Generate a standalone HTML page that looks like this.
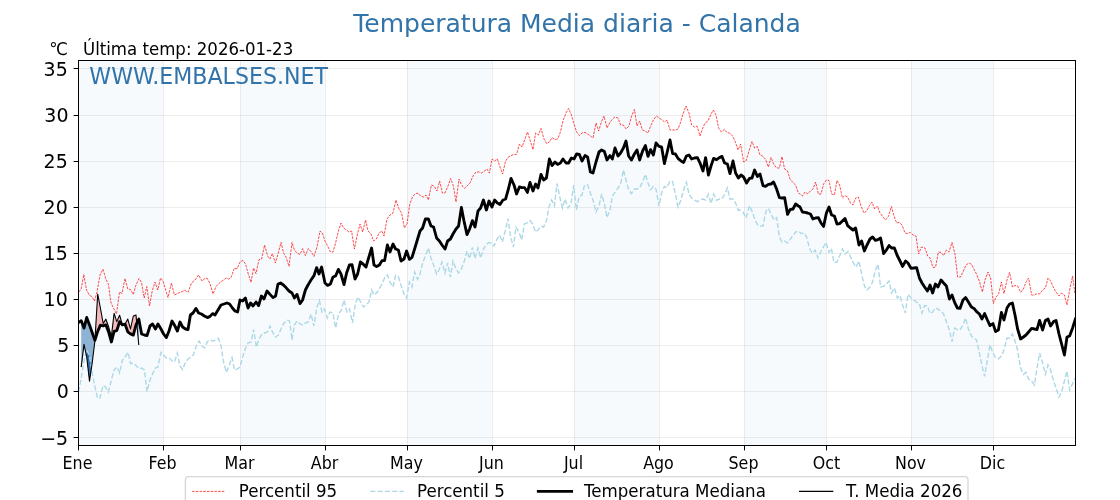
<!DOCTYPE html>
<html lang="es"><head><meta charset="utf-8"><title>Temperatura Media diaria - Calanda</title>
<style>html,body{margin:0;padding:0;background:#fff;overflow:hidden}svg{display:block;opacity:0.999;will-change:transform}text{font-family:"DejaVu Sans","Liberation Sans",sans-serif}</style></head><body>
<svg width="1120" height="500" viewBox="0 0 1120 500">
<rect width="1120" height="500" fill="#fff"/>
<rect x="78.4" y="60.5" width="84.9" height="385.0" fill="#f6fafd"/>
<rect x="240.0" y="60.5" width="84.9" height="385.0" fill="#f6fafd"/>
<rect x="407.0" y="60.5" width="84.9" height="385.0" fill="#f6fafd"/>
<rect x="574.1" y="60.5" width="84.9" height="385.0" fill="#f6fafd"/>
<rect x="743.9" y="60.5" width="82.2" height="385.0" fill="#f6fafd"/>
<rect x="910.9" y="60.5" width="82.2" height="385.0" fill="#f6fafd"/>
<path d="M78.5 437.5H1075.5M78.5 391.5H1075.5M78.5 345.5H1075.5M78.5 299.5H1075.5M78.5 253.5H1075.5M78.5 207.5H1075.5M78.5 161.5H1075.5M78.5 115.5H1075.5M78.5 68.5H1075.5" stroke="#b0b0b0" stroke-opacity="0.22" stroke-width="1" fill="none"/>
<path d="M163.5 60.5V445.5M240.5 60.5V445.5M325.5 60.5V445.5M407.5 60.5V445.5M492.5 60.5V445.5M574.5 60.5V445.5M659.5 60.5V445.5M744.5 60.5V445.5M826.5 60.5V445.5M911.5 60.5V445.5M993.5 60.5V445.5" stroke="#b0b0b0" stroke-opacity="0.22" stroke-width="1" fill="none"/>
<defs><clipPath id="ax"><rect x="78.5" y="60.5" width="997.0" height="385.0"/></clipPath></defs>
<g clip-path="url(#ax)">
<path d="M81.2 320.7 L81.5 321.4 L81.7 322.1 L82.0 322.7 L82.2 323.4 L82.5 324.1 L82.7 324.8 L83.0 325.4 L83.2 326.1 L83.5 326.8 L83.7 327.5 L84.0 328.1 L84.2 327.1 L84.5 326.1 L84.7 325.2 L85.0 324.2 L85.2 323.2 L85.5 322.3 L85.7 321.3 L86.0 320.3 L86.2 319.3 L86.5 318.4 L86.7 317.6 L87.0 318.2 L87.2 318.9 L87.5 319.6 L87.7 320.3 L88.0 320.9 L88.2 321.6 L88.5 322.3 L88.7 323.0 L89.0 323.6 L89.2 324.3 L89.5 325.0 L89.7 325.7 L90.0 326.4 L90.2 327.1 L90.5 327.8 L90.7 328.5 L91.0 329.2 L91.2 329.9 L91.5 330.6 L91.7 331.3 L92.0 332.0 L92.2 332.7 L92.5 333.4 L92.7 334.1 L93.0 334.8 L93.2 335.5 L93.5 336.2 L93.7 336.9 L94.0 337.6 L94.2 338.3 L94.5 339.0 L94.7 339.8 L94.7 342.6 L94.5 344.6 L94.2 346.6 L94.0 348.6 L93.7 350.6 L93.5 352.6 L93.2 354.6 L93.0 356.6 L92.7 358.6 L92.5 360.6 L92.2 362.6 L92.0 364.4 L91.7 366.0 L91.5 367.7 L91.2 369.4 L91.0 371.0 L90.7 372.7 L90.5 374.3 L90.2 376.0 L90.0 377.7 L89.7 379.3 L89.5 381.0 L89.2 379.3 L89.0 377.1 L88.7 374.9 L88.5 372.7 L88.2 370.4 L88.0 368.2 L87.7 366.0 L87.5 363.8 L87.2 361.6 L87.0 359.4 L86.7 357.2 L86.5 356.0 L86.2 354.8 L86.0 353.7 L85.7 352.5 L85.5 351.4 L85.2 350.2 L85.0 349.1 L84.7 347.9 L84.5 346.8 L84.2 345.6 L84.0 344.5 L83.7 346.4 L83.5 348.5 L83.2 350.5 L83.0 352.6 L82.7 354.7 L82.5 356.7 L82.2 358.8 L82.0 360.9 L81.7 363.0 L81.5 365.0 L81.2 367.1Z" fill="#8fb3d4"/>
<path d="M137.0 322.8 L137.2 322.3 L137.5 321.8 L137.7 321.3 L138.0 320.7 L138.2 320.2 L138.5 319.7 L138.7 319.1 L138.7 344.8 L138.5 342.1 L138.2 339.3 L138.0 336.6 L137.7 333.8 L137.5 331.1 L137.2 328.4 L137.0 325.6Z" fill="#8fb3d4"/>
<path d="M95.0 340.1 L95.2 339.3 L95.5 338.5 L95.7 337.7 L96.0 336.8 L96.2 336.0 L96.5 335.2 L96.7 334.4 L97.0 333.5 L97.2 332.7 L97.5 331.9 L97.7 331.2 L98.0 330.6 L98.2 330.0 L98.5 329.5 L98.7 328.9 L99.0 328.4 L99.2 327.8 L99.5 327.3 L99.7 326.7 L100.0 326.1 L100.2 325.6 L100.5 325.2 L100.7 325.3 L101.0 325.3 L101.2 325.4 L101.5 325.4 L101.7 325.5 L102.0 325.5 L102.2 325.6 L102.5 325.7 L102.7 325.7 L103.0 325.8 L103.2 325.8 L103.5 325.7 L103.7 325.6 L104.0 325.5 L104.2 325.4 L104.5 325.4 L104.7 325.3 L105.0 325.2 L105.2 325.1 L105.5 325.0 L105.7 324.9 L106.0 325.2 L106.2 325.8 L106.5 326.4 L106.7 327.1 L107.0 327.7 L107.2 328.3 L107.5 329.0 L107.7 329.6 L108.0 330.3 L108.2 330.9 L108.5 331.5 L108.7 332.3 L109.0 333.2 L109.2 334.1 L109.5 335.1 L109.7 336.0 L110.0 336.9 L110.2 337.8 L110.5 338.8 L110.7 339.7 L111.0 340.6 L111.2 341.5 L111.5 341.5 L111.7 340.6 L112.0 339.6 L112.2 338.6 L112.5 337.6 L112.7 336.6 L113.0 335.7 L113.2 334.7 L113.5 333.7 L113.7 332.7 L114.0 331.8 L114.2 331.3 L114.5 331.2 L114.7 331.1 L115.0 331.1 L115.2 331.0 L115.5 330.9 L115.7 330.9 L116.0 330.8 L116.2 330.8 L116.5 330.7 L116.7 330.6 L117.0 330.1 L117.2 329.3 L117.5 328.5 L117.7 327.7 L118.0 326.8 L118.2 326.0 L118.5 325.2 L118.7 324.4 L119.0 323.6 L119.2 322.7 L119.5 321.9 L119.7 321.8 L120.0 322.1 L120.2 322.4 L120.5 322.7 L120.7 323.0 L121.0 323.3 L121.2 323.6 L121.5 323.9 L121.7 324.2 L122.0 324.5 L122.2 324.8 L122.5 324.9 L122.7 324.8 L123.0 324.7 L123.2 324.7 L123.5 324.6 L123.7 324.5 L124.0 324.5 L124.2 324.4 L124.5 324.3 L124.7 324.3 L125.0 324.2 L125.2 324.7 L125.5 325.4 L125.7 326.1 L126.0 326.8 L126.2 327.5 L126.5 328.2 L126.7 328.9 L127.0 329.6 L127.2 330.3 L127.5 331.0 L127.7 331.7 L128.0 332.0 L128.2 332.2 L128.5 332.4 L128.7 332.6 L129.0 332.8 L129.2 332.9 L129.5 333.1 L129.7 333.3 L130.0 333.5 L130.2 333.7 L130.5 333.9 L130.7 334.0 L131.0 334.1 L131.2 334.2 L131.5 334.3 L131.7 334.4 L132.0 334.5 L132.2 334.6 L132.5 334.8 L132.7 334.9 L133.0 335.0 L133.2 335.1 L133.5 334.3 L133.7 333.4 L134.0 332.5 L134.2 331.5 L134.5 330.6 L134.7 329.7 L135.0 328.7 L135.2 327.8 L135.5 326.9 L135.7 325.9 L136.0 325.0 L136.2 324.4 L136.5 323.9 L136.7 323.4 L136.7 322.9 L136.5 320.1 L136.2 317.4 L136.0 315.0 L135.7 315.1 L135.5 315.2 L135.2 315.3 L135.0 315.4 L134.7 315.5 L134.5 315.6 L134.2 315.6 L134.0 315.7 L133.7 315.8 L133.5 315.9 L133.2 316.2 L133.0 317.4 L132.7 318.6 L132.5 319.8 L132.2 320.9 L132.0 322.1 L131.7 323.3 L131.5 324.5 L131.2 325.7 L131.0 326.9 L130.7 328.1 L130.5 328.8 L130.2 327.9 L130.0 327.0 L129.7 326.1 L129.5 325.2 L129.2 324.3 L129.0 323.4 L128.7 322.5 L128.5 321.6 L128.2 320.7 L128.0 319.8 L127.7 319.2 L127.5 319.7 L127.2 320.1 L127.0 320.6 L126.7 321.0 L126.5 321.4 L126.2 321.9 L126.0 322.3 L125.7 322.8 L125.5 323.2 L125.2 323.7 L125.0 324.0 L124.7 324.1 L124.5 324.1 L124.2 324.2 L124.0 324.2 L123.7 324.2 L123.5 324.3 L123.2 324.3 L123.0 324.4 L122.7 324.4 L122.5 324.5 L122.2 324.2 L122.0 323.4 L121.7 322.5 L121.5 321.7 L121.2 320.8 L121.0 320.0 L120.7 319.1 L120.5 318.3 L120.2 317.4 L120.0 316.6 L119.7 315.7 L119.5 315.4 L119.2 316.0 L119.0 316.6 L118.7 317.2 L118.5 317.8 L118.2 318.3 L118.0 318.9 L117.7 319.5 L117.5 320.1 L117.2 320.7 L117.0 321.3 L116.7 321.3 L116.5 320.5 L116.2 319.8 L116.0 319.0 L115.7 318.2 L115.5 317.5 L115.2 316.7 L115.0 316.0 L114.7 315.2 L114.5 314.5 L114.2 313.7 L114.0 314.3 L113.7 316.4 L113.5 318.5 L113.2 320.6 L113.0 322.7 L112.7 324.8 L112.5 326.9 L112.2 329.1 L112.0 331.2 L111.7 333.3 L111.5 335.4 L111.2 335.9 L111.0 335.1 L110.7 334.2 L110.5 333.3 L110.2 332.4 L110.0 331.6 L109.7 330.7 L109.5 329.8 L109.2 328.9 L109.0 328.1 L108.7 327.2 L108.5 326.4 L108.2 325.7 L108.0 325.0 L107.7 324.3 L107.5 323.6 L107.2 322.9 L107.0 322.2 L106.7 321.5 L106.5 320.8 L106.2 320.1 L106.0 319.4 L105.7 319.3 L105.5 319.7 L105.2 320.1 L105.0 320.5 L104.7 320.9 L104.5 321.4 L104.2 321.8 L104.0 322.2 L103.7 322.6 L103.5 323.0 L103.2 323.4 L103.0 322.6 L102.7 321.2 L102.5 319.8 L102.2 318.3 L102.0 316.9 L101.7 315.5 L101.5 314.1 L101.2 312.7 L101.0 311.3 L100.7 309.9 L100.5 308.4 L100.2 307.1 L100.0 305.8 L99.7 304.6 L99.5 303.3 L99.2 302.0 L99.0 300.7 L98.7 299.4 L98.5 298.2 L98.2 296.9 L98.0 295.6 L97.7 294.3 L97.5 297.2 L97.2 301.4 L97.0 305.7 L96.7 310.0 L96.5 314.3 L96.2 318.6 L96.0 322.9 L95.7 327.2 L95.5 331.5 L95.2 335.8 L95.0 340.1Z" fill="#f4b9bc"/>
<path d="M86.0 352.5 L86.2 351.4 L86.5 350.4 L86.7 349.6 L87.0 350.2 L87.2 350.8 L87.5 351.4 L87.7 351.9 L88.0 352.5 L88.2 353.1 L88.5 353.7 L88.7 354.3 L89.0 354.9 L89.2 355.5 L89.5 356.2 L89.7 357.7 L90.0 359.3 L90.2 360.8 L90.5 362.4 L90.7 363.9 L91.0 365.5 L91.2 367.0 L91.2 369.4 L91.0 371.0 L90.7 372.7 L90.5 374.3 L90.2 376.0 L90.0 377.7 L89.7 379.3 L89.5 381.0 L89.2 379.3 L89.0 377.1 L88.7 374.9 L88.5 372.7 L88.2 370.4 L88.0 368.2 L87.7 366.0 L87.5 363.8 L87.2 361.6 L87.0 359.4 L86.7 357.2 L86.5 356.0 L86.2 354.8 L86.0 353.7Z" fill="#2f6fae"/>
<path d="M78.8 292.0 L81.2 289.0 L83.8 274.5 L86.5 290.0 L89.5 295.5 L92.0 296.5 L94.5 301.0 L97.0 292.0 L100.0 275.0 L103.0 269.2 L105.7 278.5 L108.5 284.5 L111.0 303.0 L114.0 309.0 L116.5 314.0 L119.5 292.0 L122.0 293.5 L125.0 278.5 L127.8 289.0 L130.5 289.5 L133.2 294.5 L136.0 285.0 L139.0 278.5 L141.5 282.5 L144.2 298.0 L146.8 286.5 L149.5 306.0 L152.2 291.0 L155.0 282.0 L157.8 290.0 L160.5 278.0 L163.2 281.5 L166.0 291.0 L168.0 297.6 L171.4 283.0 L174.4 295.0 L177.4 293.5 L180.0 292.4 L185.0 290.4 L188.0 292.4 L191.6 283.0 L195.0 280.0 L198.6 275.0 L202.0 281.0 L204.4 279.0 L207.0 278.0 L210.0 283.6 L213.0 294.0 L216.0 286.4 L218.4 284.0 L221.0 281.6 L223.6 280.0 L226.0 278.0 L228.6 279.0 L231.0 277.6 L234.4 268.0 L237.0 269.0 L240.0 262.0 L243.0 260.4 L245.6 264.0 L248.0 273.0 L251.0 282.4 L253.6 268.0 L256.0 273.6 L259.0 259.6 L261.6 259.0 L264.6 245.0 L267.6 256.0 L270.0 259.0 L272.4 253.6 L275.4 263.0 L278.0 254.0 L281.0 242.4 L283.6 253.0 L286.0 257.0 L289.0 266.4 L292.0 242.4 L294.4 250.0 L297.0 253.0 L300.0 254.4 L302.6 248.6 L305.4 255.6 L308.4 248.6 L311.0 251.6 L314.0 256.4 L317.0 247.0 L320.0 231.0 L322.4 233.0 L325.0 241.0 L327.6 246.0 L330.4 252.0 L333.0 252.0 L335.6 243.0 L338.4 231.0 L341.0 223.0 L343.6 228.0 L346.4 230.0 L349.0 232.0 L351.6 231.0 L354.4 249.0 L357.0 236.0 L360.0 224.0 L362.6 232.0 L365.6 220.0 L368.0 231.0 L371.0 234.0 L373.6 241.0 L376.4 239.0 L379.0 233.0 L382.0 231.0 L384.0 236.0 L387.0 219.0 L390.0 215.0 L393.0 213.0 L396.0 200.0 L399.0 209.0 L401.6 213.0 L404.4 228.0 L407.0 224.0 L409.6 205.0 L412.4 197.0 L415.0 194.0 L418.0 193.0 L420.6 196.0 L423.4 197.0 L426.0 195.0 L428.4 200.0 L431.4 185.0 L434.0 186.0 L437.0 191.0 L439.6 181.0 L442.4 193.0 L445.0 193.0 L448.0 186.0 L450.6 178.4 L453.4 186.0 L456.0 202.0 L459.0 179.0 L461.6 185.0 L464.4 188.4 L467.0 186.0 L470.0 183.0 L473.0 176.0 L476.0 172.0 L479.0 172.0 L481.6 173.0 L484.4 171.0 L487.0 169.0 L489.4 173.0 L492.0 159.0 L494.6 161.0 L497.4 159.0 L500.0 167.0 L502.6 174.0 L505.6 161.0 L508.4 157.0 L511.0 155.6 L514.0 154.4 L516.6 154.4 L519.4 144.0 L522.0 147.0 L524.6 140.0 L527.6 132.0 L530.0 140.0 L533.0 149.6 L535.6 133.0 L538.4 135.0 L541.0 128.4 L544.0 139.0 L546.6 143.6 L549.4 142.0 L552.0 137.6 L555.0 139.6 L557.6 139.0 L560.4 132.0 L563.0 121.0 L566.0 113.0 L568.6 108.4 L571.4 115.0 L574.0 124.0 L576.6 132.0 L579.4 135.6 L582.0 133.0 L585.0 132.4 L587.6 134.0 L590.4 136.0 L593.0 138.0 L596.0 123.0 L598.6 131.0 L601.4 122.0 L604.0 116.0 L607.0 128.0 L609.6 123.0 L612.4 119.0 L615.0 117.0 L618.0 118.0 L620.6 125.0 L623.4 125.0 L626.0 129.0 L629.0 126.0 L631.6 116.0 L634.4 109.4 L637.0 126.0 L639.6 121.0 L642.4 130.0 L645.0 131.0 L648.0 133.0 L650.6 126.0 L653.4 120.0 L656.4 116.0 L659.0 118.0 L661.6 119.6 L664.4 122.0 L667.0 120.0 L670.0 130.0 L672.6 130.0 L675.4 130.0 L678.0 129.0 L680.0 124.0 L683.0 114.0 L686.0 106.0 L689.0 113.0 L691.6 125.0 L694.4 127.0 L697.0 126.0 L700.0 136.0 L702.4 129.0 L705.0 123.0 L708.0 121.0 L710.6 115.0 L713.4 110.0 L716.0 115.0 L718.6 128.0 L721.4 132.0 L724.4 129.4 L727.0 132.6 L729.6 133.0 L732.6 136.0 L735.4 142.0 L738.0 150.0 L740.6 144.0 L743.6 162.0 L746.0 161.0 L749.0 151.0 L752.0 141.4 L754.6 148.0 L757.4 146.6 L760.0 155.0 L762.6 156.0 L765.6 159.4 L768.4 167.0 L771.0 157.4 L773.6 164.0 L776.6 168.0 L779.4 168.0 L782.0 156.6 L784.6 169.0 L787.4 170.6 L790.0 179.0 L793.0 182.6 L795.6 185.0 L798.4 193.0 L800.0 194.0 L802.4 196.0 L805.0 192.0 L807.6 194.0 L810.4 191.0 L813.0 189.0 L815.6 182.0 L818.4 194.0 L821.0 194.0 L823.6 184.0 L826.4 180.0 L829.0 180.4 L831.6 194.0 L834.4 195.0 L837.0 180.4 L839.6 185.0 L842.4 198.0 L845.0 195.6 L847.6 197.0 L850.4 203.0 L853.0 205.0 L855.6 198.0 L858.4 197.0 L861.0 206.0 L864.0 213.0 L866.6 211.0 L869.4 205.6 L872.0 202.0 L874.6 209.0 L877.4 206.0 L880.0 213.0 L883.0 217.0 L885.6 220.0 L888.4 216.4 L891.4 206.4 L894.0 216.0 L896.6 223.0 L899.4 222.4 L902.0 225.0 L905.0 233.0 L907.6 233.6 L910.4 232.4 L913.0 235.0 L916.0 236.0 L918.6 254.0 L921.4 247.0 L925.0 248.0 L927.6 256.0 L930.0 258.0 L933.0 267.6 L935.6 267.0 L938.4 252.0 L941.0 252.4 L943.6 255.6 L946.4 250.0 L949.0 252.0 L952.0 242.4 L955.0 254.0 L957.6 277.0 L960.6 277.0 L963.4 271.0 L966.0 265.0 L969.0 263.0 L971.6 264.4 L974.4 270.0 L977.0 275.0 L979.6 282.0 L982.4 292.0 L985.0 280.0 L988.0 272.0 L990.6 278.0 L993.4 303.6 L996.0 297.0 L998.6 294.0 L1001.4 282.0 L1004.0 293.6 L1007.0 280.0 L1009.6 272.4 L1012.4 287.0 L1015.0 285.6 L1017.6 286.0 L1020.6 292.4 L1023.4 289.0 L1026.0 282.0 L1028.6 278.0 L1031.6 295.0 L1034.4 295.0 L1037.0 293.6 L1039.6 294.0 L1042.6 290.0 L1045.4 288.0 L1048.0 278.0 L1050.6 281.0 L1053.6 288.0 L1056.0 292.0 L1059.0 296.0 L1061.6 293.0 L1064.4 295.0 L1067.0 305.0 L1069.6 290.0 L1072.6 276.0 L1075.0 294.0" stroke="#ff0000" stroke-width="0.7" stroke-dasharray="2.6 1.1" fill="none"/>
<path d="M78.6 392.0 L81.2 378.0 L84.0 361.0 L86.7 349.5 L89.5 356.0 L92.2 373.0 L94.9 386.5 L97.6 398.4 L100.0 398.0 L103.0 385.6 L105.6 387.0 L108.4 392.0 L111.4 380.0 L114.0 370.0 L117.0 367.0 L119.6 373.0 L122.4 360.0 L125.0 357.0 L128.0 352.4 L130.6 363.6 L133.4 363.0 L136.0 365.6 L139.0 368.6 L141.6 368.0 L144.4 370.0 L147.0 391.6 L150.0 380.0 L152.6 374.0 L155.4 368.0 L158.0 367.0 L161.0 352.4 L163.6 355.0 L166.4 358.0 L169.0 357.6 L172.0 361.0 L174.4 362.0 L177.4 353.0 L180.0 366.0 L182.6 369.6 L185.6 362.0 L188.0 359.0 L191.0 357.0 L193.6 354.4 L196.4 346.0 L199.0 341.0 L202.0 346.0 L204.6 348.0 L207.4 341.6 L210.0 340.0 L213.0 341.0 L215.6 340.0 L218.4 338.4 L221.0 346.0 L223.6 362.0 L226.4 372.4 L229.4 365.0 L232.0 357.6 L234.6 370.0 L237.4 369.0 L240.0 367.0 L242.6 357.0 L245.6 348.0 L248.0 343.0 L251.0 342.0 L253.6 329.6 L256.4 347.0 L259.0 339.0 L262.0 334.0 L264.6 333.0 L267.4 332.0 L270.0 326.0 L273.0 333.0 L275.6 337.0 L278.4 335.0 L281.4 328.0 L284.0 323.0 L287.0 320.0 L289.6 321.0 L292.0 340.0 L294.4 325.0 L297.0 321.0 L300.0 324.0 L302.6 325.0 L305.4 323.0 L308.4 322.0 L311.0 314.0 L314.0 326.0 L316.6 308.0 L319.4 300.4 L322.0 312.0 L324.4 309.0 L327.4 318.0 L330.0 312.0 L333.0 313.0 L335.6 328.0 L338.6 314.0 L341.4 310.0 L344.0 300.0 L347.0 312.0 L349.6 309.0 L352.4 323.0 L355.4 304.0 L358.0 297.0 L360.6 302.0 L363.4 307.0 L366.0 305.0 L369.0 302.0 L371.6 290.0 L374.0 295.0 L376.6 293.0 L379.4 288.6 L382.0 284.0 L384.6 278.0 L387.4 275.0 L390.0 282.0 L393.0 287.0 L395.6 275.4 L398.4 276.6 L401.0 285.4 L404.0 294.0 L406.6 298.0 L409.4 282.0 L412.0 287.0 L414.6 272.0 L417.6 279.4 L420.0 274.0 L422.6 263.0 L425.4 256.0 L428.4 248.0 L431.0 258.0 L433.6 265.0 L436.6 274.0 L439.4 269.0 L442.0 262.0 L445.0 273.0 L447.6 263.0 L450.4 277.0 L453.0 261.0 L456.0 269.0 L458.6 273.0 L461.4 269.0 L464.0 262.0 L467.0 251.0 L469.6 258.6 L472.4 247.4 L475.0 258.6 L478.0 248.0 L480.6 258.0 L483.4 249.0 L486.0 245.0 L488.6 242.6 L491.4 243.0 L494.0 246.0 L497.0 239.0 L499.6 235.0 L502.4 242.0 L505.0 232.0 L508.0 218.6 L510.6 237.0 L513.4 247.0 L516.0 227.0 L519.0 232.0 L521.6 240.0 L524.4 224.0 L527.0 223.0 L530.0 220.6 L532.6 224.0 L535.6 232.0 L538.0 230.0 L541.0 226.0 L543.6 227.0 L546.4 221.0 L549.0 207.0 L551.6 200.0 L554.4 206.0 L557.0 183.6 L559.6 196.0 L562.4 208.0 L565.0 199.0 L568.0 208.0 L571.0 204.0 L573.6 185.0 L576.4 210.0 L579.0 197.0 L582.0 195.0 L584.6 185.0 L587.6 185.0 L590.0 192.0 L593.0 200.0 L596.0 212.0 L599.0 206.0 L601.6 194.0 L604.4 204.0 L607.0 217.6 L610.0 210.0 L612.4 196.0 L615.0 192.4 L618.0 188.0 L620.6 184.0 L623.4 170.0 L626.0 180.0 L628.6 189.6 L631.4 193.6 L634.4 189.0 L637.0 189.0 L639.6 188.0 L642.6 182.0 L645.4 174.4 L648.0 183.0 L650.6 189.6 L653.4 186.4 L656.0 189.0 L659.0 206.0 L661.6 193.0 L664.4 186.4 L667.0 187.6 L670.0 181.0 L672.6 181.6 L675.4 194.0 L678.0 207.0 L681.0 200.0 L683.6 190.0 L686.4 182.4 L689.0 194.0 L691.6 198.0 L694.4 200.0 L697.4 201.6 L700.0 200.0 L703.0 199.0 L705.6 200.0 L708.4 194.4 L711.0 203.6 L713.6 194.0 L716.6 200.4 L719.4 199.0 L722.0 199.0 L724.6 194.4 L727.4 188.0 L730.0 199.0 L733.0 199.0 L735.6 203.0 L738.4 210.4 L740.0 210.0 L743.0 212.0 L746.0 218.0 L749.6 205.6 L752.4 212.0 L755.0 220.0 L757.6 225.0 L760.4 226.0 L763.0 226.0 L766.0 211.0 L768.6 208.4 L771.4 215.0 L774.0 220.0 L776.6 217.6 L779.4 237.0 L782.0 242.0 L784.6 241.0 L787.6 243.0 L790.4 239.0 L793.0 235.6 L795.6 232.0 L798.4 231.0 L801.0 233.6 L804.0 233.0 L806.6 237.0 L809.4 248.0 L812.0 253.0 L815.0 250.0 L818.0 258.0 L820.6 252.0 L823.4 247.0 L826.0 242.4 L829.0 252.4 L831.4 248.4 L834.0 262.4 L837.0 262.0 L839.6 256.0 L842.4 249.0 L845.0 254.0 L848.0 251.6 L850.6 257.0 L853.4 263.0 L856.0 267.0 L859.0 261.0 L861.6 274.0 L864.4 286.0 L867.0 290.0 L870.0 287.0 L872.6 282.0 L875.4 270.0 L878.0 264.4 L880.6 287.0 L883.6 286.4 L886.4 284.0 L889.0 281.0 L891.6 293.0 L894.4 288.0 L897.4 298.0 L900.0 295.6 L902.6 305.0 L905.4 313.0 L908.0 294.4 L911.0 298.0 L913.6 300.0 L916.4 302.0 L919.4 304.0 L922.0 313.0 L924.6 305.6 L927.4 306.0 L930.0 313.6 L932.6 312.0 L935.4 308.0 L938.0 309.0 L941.0 311.6 L943.6 314.0 L946.4 322.0 L949.4 330.0 L952.0 341.6 L954.6 328.0 L957.4 329.6 L960.0 330.0 L963.0 325.0 L965.6 318.0 L968.4 329.0 L971.4 336.0 L974.0 338.4 L976.6 340.0 L979.4 353.0 L982.0 366.0 L984.6 376.4 L987.4 360.0 L990.0 345.0 L993.0 353.0 L995.6 357.6 L998.4 359.0 L1001.4 356.0 L1004.0 350.0 L1007.0 338.0 L1009.6 338.0 L1012.4 334.0 L1015.0 341.0 L1017.6 350.0 L1020.6 368.0 L1023.4 374.4 L1026.0 372.4 L1028.6 379.0 L1031.6 381.0 L1034.4 385.0 L1037.0 368.0 L1039.6 353.0 L1042.6 363.0 L1045.4 374.4 L1048.0 365.0 L1050.6 370.0 L1053.6 381.0 L1056.0 388.0 L1059.0 397.0 L1061.6 392.0 L1064.4 381.0 L1067.0 371.0 L1069.6 390.0 L1072.6 383.6 L1075.4 378.0" stroke="#add8e6" stroke-width="1.4" stroke-dasharray="5.1 2.2" fill="none"/>
<path d="M78.5 322.6 L81.2 320.7 L84.0 328.1 L86.7 317.5 L89.5 324.9 L92.2 332.6 L94.9 340.3 L97.7 331.3 L100.4 325.2 L103.2 325.8 L105.9 324.9 L108.6 331.9 L111.4 342.0 L114.1 331.3 L116.8 330.6 L119.6 321.6 L122.3 324.9 L125.1 324.2 L127.8 331.9 L130.5 333.9 L133.3 335.1 L136.0 324.9 L138.8 319.1 L141.6 334.0 L144.4 335.0 L147.0 335.6 L150.0 326.0 L152.6 324.0 L155.4 329.0 L158.0 324.0 L161.0 329.0 L163.6 334.0 L166.4 337.6 L169.0 331.0 L172.0 321.0 L174.4 325.0 L177.4 331.0 L180.0 322.0 L182.6 327.0 L185.6 329.0 L188.0 329.6 L190.4 315.0 L193.0 313.0 L196.0 308.4 L198.6 313.0 L201.4 314.0 L204.4 316.0 L207.4 317.6 L210.0 316.4 L212.6 313.6 L215.0 315.0 L218.0 310.0 L221.0 305.0 L224.0 304.0 L227.0 303.0 L229.6 304.0 L232.4 308.0 L235.0 311.0 L237.6 312.0 L240.0 300.0 L242.6 301.0 L245.4 298.0 L248.0 308.0 L250.6 303.0 L253.0 306.0 L256.0 302.0 L258.6 305.6 L261.4 296.0 L264.0 299.0 L267.0 291.0 L270.0 294.4 L273.0 297.6 L275.6 296.0 L278.0 284.0 L280.6 283.0 L283.4 285.0 L286.0 287.6 L289.0 291.0 L292.0 293.0 L294.4 298.0 L297.0 294.4 L300.0 303.6 L302.6 300.0 L305.4 290.0 L308.0 285.0 L311.0 280.0 L314.0 275.6 L316.6 267.6 L319.0 274.0 L321.6 267.0 L325.0 283.0 L327.6 285.4 L330.4 284.0 L333.0 277.0 L335.6 276.0 L338.4 269.4 L341.0 274.0 L344.0 284.6 L346.6 273.0 L349.4 265.0 L352.0 264.6 L355.0 279.0 L357.6 274.0 L360.4 262.0 L363.0 264.0 L366.0 267.0 L368.6 258.0 L371.6 248.0 L374.0 265.0 L376.6 266.6 L379.4 265.0 L382.0 260.6 L384.6 260.6 L387.4 245.0 L390.0 252.0 L393.0 244.0 L395.6 249.0 L398.4 250.0 L401.0 261.0 L404.0 259.0 L406.6 251.0 L409.4 259.4 L412.0 257.4 L414.6 249.0 L417.6 239.0 L420.0 231.0 L422.6 228.0 L425.4 219.0 L428.4 219.0 L431.0 226.0 L433.6 227.0 L436.6 238.0 L439.4 241.0 L442.0 245.0 L445.0 249.0 L447.6 241.0 L450.4 239.0 L453.0 234.0 L456.0 229.0 L458.6 226.0 L461.4 207.4 L464.0 221.0 L467.0 234.6 L469.6 229.0 L472.4 220.6 L475.0 227.0 L478.0 211.0 L480.6 208.0 L483.4 200.0 L486.4 210.0 L489.0 201.0 L492.0 207.0 L494.6 200.0 L497.4 203.0 L500.0 204.4 L503.0 200.0 L505.6 199.0 L508.4 189.0 L511.0 178.4 L514.0 185.0 L516.6 194.0 L519.4 187.0 L522.0 187.6 L524.6 187.6 L527.4 192.4 L530.0 182.4 L533.0 191.0 L535.6 184.0 L538.0 188.0 L541.0 174.4 L543.6 180.0 L546.4 178.0 L549.4 159.0 L552.0 165.6 L555.0 162.0 L557.6 164.4 L560.4 163.0 L563.0 159.0 L566.0 163.0 L568.6 163.0 L571.4 158.0 L574.0 159.0 L576.6 154.0 L579.4 154.4 L582.0 161.0 L585.0 155.6 L587.6 157.0 L590.4 172.0 L593.0 173.0 L596.0 162.0 L599.0 152.0 L601.6 150.0 L604.4 151.6 L607.0 160.0 L610.0 155.6 L612.4 159.0 L615.0 148.0 L618.0 156.0 L620.6 153.0 L623.4 148.0 L626.0 141.0 L628.6 156.0 L631.4 160.0 L634.4 154.0 L637.0 150.0 L639.6 160.0 L642.6 151.0 L645.4 145.6 L648.0 156.4 L650.6 149.6 L653.4 155.0 L656.0 143.0 L659.0 146.4 L661.6 147.0 L664.4 163.6 L667.0 153.0 L670.0 140.0 L672.6 153.6 L675.4 154.0 L678.0 158.4 L681.0 161.0 L683.6 162.4 L686.4 156.0 L689.0 155.0 L691.6 159.0 L694.4 158.0 L697.4 157.6 L700.0 163.0 L703.0 171.0 L705.6 157.6 L708.4 175.0 L711.0 166.0 L713.6 158.4 L716.6 159.6 L719.4 157.6 L722.0 156.4 L724.6 163.0 L727.4 164.0 L730.0 173.6 L733.0 161.0 L735.6 173.0 L738.4 178.0 L741.0 175.0 L743.6 177.0 L746.6 183.0 L749.4 178.4 L752.0 178.0 L754.6 170.0 L757.4 176.4 L760.0 174.0 L763.0 185.6 L765.6 186.4 L768.4 184.4 L771.0 184.0 L773.6 182.0 L776.6 189.0 L779.4 197.6 L782.0 198.0 L784.6 197.6 L787.6 214.4 L790.0 209.6 L793.0 209.0 L795.6 204.0 L798.4 206.0 L800.0 207.0 L802.4 212.0 L805.0 212.4 L807.6 213.0 L810.4 214.0 L813.0 219.0 L815.6 218.0 L818.4 217.6 L821.0 223.0 L823.6 226.4 L826.4 213.0 L829.0 207.0 L831.6 215.0 L834.4 216.0 L837.0 224.0 L839.6 223.6 L842.4 221.0 L845.0 218.4 L847.6 225.6 L850.4 228.0 L853.0 230.0 L855.6 228.0 L859.0 245.0 L861.6 241.0 L864.4 251.0 L867.0 245.0 L870.0 239.0 L872.6 237.0 L875.4 240.4 L878.0 239.6 L880.6 238.0 L883.6 253.6 L886.4 250.0 L889.0 245.6 L891.6 248.0 L894.4 248.0 L897.0 255.0 L900.0 261.0 L902.6 266.4 L905.6 261.0 L908.0 263.0 L911.0 268.4 L914.0 268.0 L916.6 267.6 L919.4 278.0 L922.0 283.0 L924.6 287.0 L927.4 291.0 L930.0 285.0 L932.6 293.0 L935.4 284.0 L938.0 287.0 L941.0 280.0 L943.6 283.0 L946.4 286.0 L949.4 299.0 L952.0 295.0 L954.6 302.4 L957.4 308.0 L960.0 308.4 L963.0 300.0 L965.6 297.6 L968.4 302.0 L971.4 307.0 L974.0 308.4 L976.6 311.6 L979.4 314.0 L982.0 319.0 L984.6 313.6 L987.4 320.0 L990.0 325.6 L993.0 323.6 L995.6 331.6 L998.4 330.0 L1001.4 312.4 L1004.0 320.0 L1007.0 308.0 L1009.6 304.0 L1012.4 303.0 L1015.0 315.0 L1017.6 329.0 L1020.6 339.0 L1023.4 337.0 L1026.0 335.0 L1028.6 332.0 L1031.6 328.4 L1034.4 329.0 L1037.0 329.6 L1039.6 320.4 L1042.6 330.0 L1045.4 320.4 L1048.0 319.0 L1050.6 326.0 L1053.6 321.6 L1056.0 320.4 L1059.0 334.0 L1061.6 344.0 L1064.4 355.0 L1067.0 337.0 L1069.6 336.0 L1072.6 328.0 L1075.4 319.0" stroke="#000" stroke-width="2.85" stroke-linejoin="round" stroke-linecap="square" fill="none"/>
<path d="M81.2 367.1 L84.0 344.4 L86.7 357.0 L89.5 381.2 L92.2 363.0 L94.9 341.0 L97.7 294.0 L100.4 308.0 L103.2 323.5 L105.9 319.1 L108.6 326.8 L111.4 336.4 L114.1 313.3 L116.8 321.6 L119.6 315.2 L122.3 324.5 L125.1 324.0 L127.8 319.1 L130.5 329.0 L133.3 316.0 L136.0 315.0 L138.8 345.0" stroke="#000" stroke-width="1.1" stroke-linejoin="round" fill="none"/>
</g>
<rect x="78.5" y="60.5" width="997.0" height="385.0" fill="none" stroke="#000" stroke-width="1"/>
<path d="M78.5 437.5h-4.9M78.5 391.5h-4.9M78.5 345.5h-4.9M78.5 299.5h-4.9M78.5 253.5h-4.9M78.5 207.5h-4.9M78.5 161.5h-4.9M78.5 115.5h-4.9M78.5 68.5h-4.9M78.5 445.5v4.9M163.5 445.5v4.9M240.5 445.5v4.9M325.5 445.5v4.9M407.5 445.5v4.9M492.5 445.5v4.9M574.5 445.5v4.9M659.5 445.5v4.9M744.5 445.5v4.9M826.5 445.5v4.9M911.5 445.5v4.9M993.5 445.5v4.9" stroke="#000" stroke-width="1" fill="none"/>
<text x="68.20" y="444.85" font-size="19" text-anchor="end" fill="#000">−5</text>
<text x="68.90" y="397.85" font-size="19" text-anchor="end" fill="#000">0</text>
<text x="69.40" y="351.85" font-size="19" text-anchor="end" fill="#000">5</text>
<text x="67.80" y="305.85" font-size="19" text-anchor="end" fill="#000">10</text>
<text x="67.80" y="259.85" font-size="19" text-anchor="end" fill="#000">15</text>
<text x="67.80" y="213.85" font-size="19" text-anchor="end" fill="#000">20</text>
<text x="67.80" y="167.85" font-size="19" text-anchor="end" fill="#000">25</text>
<text x="68.50" y="121.85" font-size="19" text-anchor="end" fill="#000">30</text>
<text x="67.80" y="75.85" font-size="19" text-anchor="end" fill="#000">35</text>
<text transform="translate(77.50 469.20) scale(0.953 1.055)" font-size="16.67" text-anchor="middle" fill="#000">Ene</text>
<text transform="translate(162.50 469.20) scale(0.953 1.055)" font-size="16.67" text-anchor="middle" fill="#000">Feb</text>
<text transform="translate(239.50 469.20) scale(0.953 1.055)" font-size="16.67" text-anchor="middle" fill="#000">Mar</text>
<text transform="translate(324.50 469.20) scale(0.953 1.055)" font-size="16.67" text-anchor="middle" fill="#000">Abr</text>
<text transform="translate(406.50 469.20) scale(0.953 1.055)" font-size="16.67" text-anchor="middle" fill="#000">May</text>
<text transform="translate(491.50 469.20) scale(0.953 1.055)" font-size="16.67" text-anchor="middle" fill="#000">Jun</text>
<text transform="translate(573.50 469.20) scale(0.953 1.055)" font-size="16.67" text-anchor="middle" fill="#000">Jul</text>
<text transform="translate(658.50 469.20) scale(0.953 1.055)" font-size="16.67" text-anchor="middle" fill="#000">Ago</text>
<text transform="translate(743.50 469.20) scale(0.953 1.055)" font-size="16.67" text-anchor="middle" fill="#000">Sep</text>
<text transform="translate(826.50 469.20) scale(0.953 1.055)" font-size="16.67" text-anchor="middle" fill="#000">Oct</text>
<text transform="translate(910.50 469.20) scale(0.953 1.055)" font-size="16.67" text-anchor="middle" fill="#000">Nov</text>
<text transform="translate(992.50 469.20) scale(0.953 1.055)" font-size="16.67" text-anchor="middle" fill="#000">Dic</text>
<text x="577.00" y="31.70" font-size="25" text-anchor="middle" fill="#3274a9">Temperatura Media diaria - Calanda</text>
<text transform="translate(49.20 54.70) scale(1 1.055)" font-size="16.67" fill="#000">℃</text>
<text transform="translate(83.00 54.70) scale(0.996 1.055)" font-size="16.67" fill="#000">Última temp: 2026-01-23</text>
<text x="89.30" y="83.60" font-size="22.1" fill="#3274a9">WWW.EMBALSES.NET</text>
<rect x="185.4" y="476.6" width="782.6" height="40" rx="3.3" ry="3.3" fill="#fff" fill-opacity="0.8" stroke="#cccccc" stroke-opacity="0.8" stroke-width="1.35"/>
<path d="M192.1 491.4H225.4" stroke="#ff0000" stroke-width="0.7" stroke-dasharray="2.6 1.1" fill="none"/>
<text transform="translate(238.80 496.70) scale(1 1.06)" font-size="16.67" fill="#000">Percentil 95</text>
<path d="M370.3 491.4H403.7" stroke="#add8e6" stroke-width="1.4" stroke-dasharray="5.1 2.2" fill="none"/>
<text transform="translate(417.00 496.70) scale(1 1.06)" font-size="16.67" fill="#000">Percentil 5</text>
<path d="M538.3 491.4H571.6" stroke="#000" stroke-width="2.85" stroke-linecap="square" fill="none"/>
<text transform="translate(584.00 496.70) scale(1 1.06)" font-size="16.67" fill="#000">Temperatura Mediana</text>
<path d="M799.5 491.4H832.8" stroke="#000" stroke-width="1.1" stroke-linecap="square" fill="none"/>
<text transform="translate(846.00 496.70) scale(1 1.06)" font-size="16.67" fill="#000">T. Media 2026</text>
</svg></body></html>
